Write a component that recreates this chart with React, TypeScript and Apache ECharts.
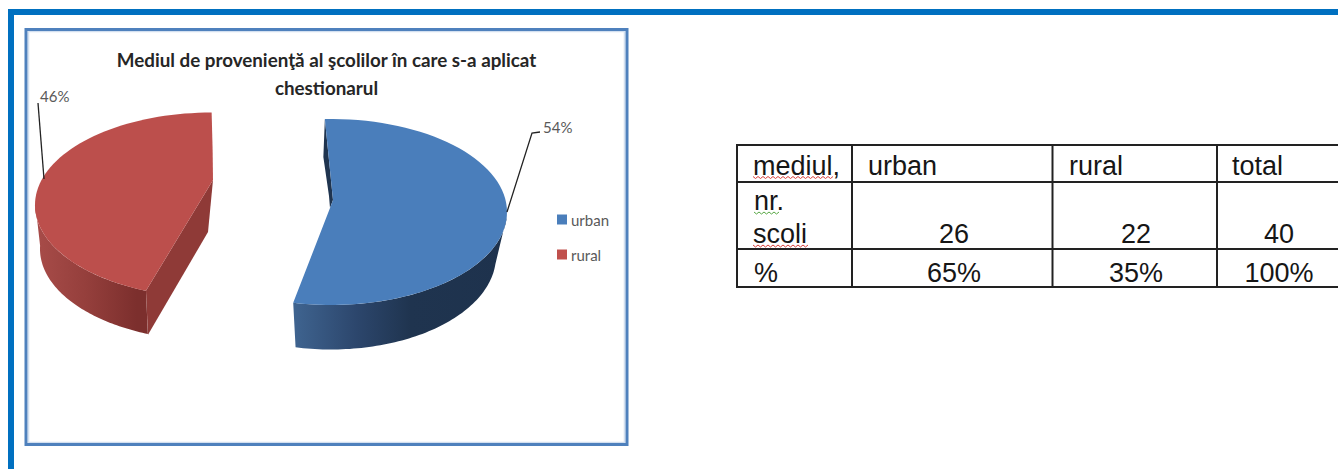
import React, { useEffect, useRef } from "react";
import * as echarts from "echarts";

const titleLines = ["Mediul de provenienţă al şcolilor în care s-a aplicat", "chestionarul"];
const sliceNames = ["urban", "rural"];
const sliceValues = [54, 46];
const tableHeader = ["mediul,", "urban", "rural", "total"];
const tableCounts = ["26", "22", "40"];
const tablePercents = ["65%", "35%", "100%"];

const W = 1338;
const H = 469;
const rad = (d: number) => (d * Math.PI) / 180;

type Geo = {
  face: string; wallStops: [number, string][]; cutWall: string;
  cx: number; cy: number; a: number; ry: number;
  bcx: number; bcy: number; ba: number; bry: number;
  start: number; sweepScale: number; apex: number[];
  wallFrom: number; wallTo: number; bottomFrom: number; bottomTo: number;
  leader: number[][]; label: number[];
};

const geoUrban: Geo = {
  face: "#4a7ebb",
  wallStops: [[0, "#3f6490"], [0.3, "#2c466c"], [0.55, "#1f344f"], [1, "#1e324d"]],
  cutWall: "#1f344f",
  cx: 331, cy: 212, a: 176, ry: 93,
  bcx: 331, bcy: 256, ba: 165, bry: 93.5,
  start: -2, sweepScale: 1, apex: [330, 208],
  wallFrom: 93, wallTo: 192.4, bottomFrom: 95, bottomTo: 192.4,
  leader: [[507, 212], [532, 133], [540, 132]],
  label: [543, 127],
};
const geoRural: Geo = {
  face: "#bc4f4c",
  wallStops: [[0, "#a84c49"], [0.45, "#953f3c"], [0.9, "#7c2f2d"], [1, "#7c2f2d"]],
  cutWall: "#8f3a37",
  cx: 212, cy: 205, a: 177, ry: 92.5,
  bcx: 212, bcy: 249, ba: 172, bry: 91.6,
  start: 201.9, sweepScale: 0.954, apex: [213, 180],
  wallFrom: 201.9, wallTo: 272, bottomFrom: 201.9, bottomTo: 272,
  leader: [[44, 179], [38, 103]],
  label: [40, 96],
};
const geos = [geoUrban, geoRural];

function arc(cx: number, cy: number, a: number, ry: number, from: number, to: number) {
  const pts: number[][] = [];
  const n = 72;
  for (let i = 0; i <= n; i++) {
    const t = rad(from + ((to - from) * i) / n);
    pts.push([cx + a * Math.sin(t), cy - ry * Math.cos(t)]);
  }
  return pts;
}

function sliceRender(idx: number) {
  return () => {
    const g = geos[idx];
    const value = sliceValues[idx];
    const total = sliceValues.reduce((s, v) => s + v, 0);
    const sweep = (value / total) * 360 * g.sweepScale;
    const end = g.start + sweep;
    const rim = arc(g.cx, g.cy, g.a, g.ry, g.start, end);
    const rimS = rim[0];
    const rimE = rim[rim.length - 1];
    const children: any[] = [];
    const xs = [
      ...arc(g.cx, g.cy, g.a, g.ry, g.wallFrom, g.wallTo),
      ...arc(g.bcx, g.bcy, g.ba, g.bry, g.bottomTo, g.bottomFrom),
    ];
    const wallFill = new echarts.graphic.LinearGradient(0, 0, 1, 0, g.wallStops.map(([offset, color]) => ({ offset, color })));
    children.push({ type: "polygon", shape: { points: xs }, style: { fill: wallFill } });
    if (idx === 0) {
      children.push({
        type: "polygon",
        shape: { points: [rimS, [rimS[0] - 1.5, rimS[1] + 38], [g.apex[0] - 1, g.apex[1] - 12], g.apex, [g.apex[0] + 3, g.apex[1] - 8]] },
        style: { fill: g.cutWall },
      });
      children.push({
        type: "polygon",
        shape: { points: [...rim, g.apex, [g.apex[0] + 3, g.apex[1] - 8]] },
        style: { fill: g.face },
      });
    } else {
      children.push({
        type: "polygon",
        shape: { points: [rimS, [rimS[0] + 2, rimS[1] + 44], [g.apex[0] - 5, g.apex[1] + 52], g.apex] },
        style: { fill: g.cutWall },
      });
      children.push({
        type: "polygon",
        shape: { points: [...rim, [rimE[0] + 1, rimE[1] + 38], g.apex] },
        style: { fill: g.face },
      });
    }
    children.push({
      type: "polyline",
      shape: { points: g.leader },
      style: { stroke: "#222222", lineWidth: 1.3, fill: "none" },
    });
    children.push({
      type: "text",
      x: g.label[0], y: g.label[1],
      style: { text: `${value}%`, fill: "#595959", font: "15px Lato", textAlign: "left", textVerticalAlign: "middle" },
    });
    return { type: "group", children };
  };
}

const colX = [737, 852, 1052.5, 1217];
const rowY = [145, 182, 249, 287];
const tableFont = '27px "Liberation Sans"';
const tableInk = "#161616";
const baselineShift = 23;

function cell(text: string, x: number, y: number, align: string = "left") {
  return { type: "text", x, y: y - baselineShift, silent: true, style: { text, fill: tableInk, font: tableFont, textAlign: align, textVerticalAlign: "top" } };
}
function squiggle(x0: number, x1: number, y: number, color: string) {
  const points: number[][] = [];
  let i = 0;
  for (let x = x0; x <= x1; x += 2.5) points.push([x, y + (i++ % 2 ? 2 : 0)]);
  return { type: "polyline", silent: true, shape: { points }, style: { stroke: color, lineWidth: 1, fill: "none" } };
}
function rule(x1: number, y1: number, x2: number, y2: number) {
  return { type: "line", silent: true, shape: { x1, y1, x2, y2 }, style: { stroke: "#222222", lineWidth: 2 } };
}

function tableGraphics() {
  const els: any[] = [];
  rowY.forEach((y) => els.push(rule(colX[0] - 1, y, W, y)));
  colX.forEach((x) => els.push(rule(x, rowY[0], x, rowY[3])));
  const headerX = [753, 868, 1069, 1232];
  tableHeader.forEach((t, i) => els.push(cell(t, headerX[i], 175)));
  els.push(cell("nr.", 754, 210));
  els.push(cell("scoli", 753, 243));
  els.push(cell("%", 754, 282));
  const centers = [954, 1136, 1279];
  tableCounts.forEach((t, i) => els.push(cell(t, centers[i], 243, "center")));
  tablePercents.forEach((t, i) => els.push(cell(t, centers[i], 282, "center")));
  els.push(squiggle(753, 835, 176.5, "#d9413b"));
  els.push(squiggle(753, 810, 245, "#d9413b"));
  els.push(squiggle(754, 779, 212, "#58a845"));
  return els;
}

export default function App() {
  const ref = useRef<HTMLDivElement>(null);
  useEffect(() => {
    document.body.style.margin = "0";
    const chart = echarts.init(ref.current!, undefined, { renderer: "svg" });
    chart.setOption({
      animation: false,
      backgroundColor: "#ffffff",
      title: {
        text: titleLines.join("\n"),
        left: 326.5, top: 45, padding: 0, textAlign: "center",
        textStyle: { fontFamily: "Lato", fontWeight: "bold", fontSize: 18.8, lineHeight: 28, color: "#262626" },
      },
      legend: {
        orient: "vertical", left: 557, top: 212, padding: 0,
        itemWidth: 10, itemHeight: 10, itemGap: 20, icon: "rect",
        textStyle: { fontFamily: "Lato", fontSize: 15, color: "#595959", padding: [0, 0, 0, -1] },
        data: sliceNames.map((name, i) => ({ name, itemStyle: { color: i === 0 ? "#4a7ebb" : "#c0504d" } })),
      },
      graphic: [
        { type: "rect", silent: true, z: 0, shape: { x: 8, y: 9, width: W - 8, height: 6 }, style: { fill: "#0070c0" } },
        { type: "rect", silent: true, z: 0, shape: { x: 8, y: 9, width: 6, height: H - 9 }, style: { fill: "#0070c0" } },
        { type: "rect", silent: true, z: 0, shape: { x: 28.5, y: 31.5, width: 596, height: 411 }, style: { fill: "none", stroke: "#d3e0f0", lineWidth: 1.5 } },
        { type: "rect", silent: true, z: 0, shape: { x: 26, y: 29.5, width: 601, height: 415 }, style: { fill: "none", stroke: "#4f81bd", lineWidth: 3 } },
        ...tableGraphics(),
      ],
      series: sliceNames.map((name, i) => ({
        type: "custom",
        name,
        coordinateSystem: "none",
        silent: true,
        data: [sliceValues[i]],
        itemStyle: { color: i === 0 ? "#4a7ebb" : "#c0504d" },
        renderItem: sliceRender(i),
      })),
    });
    return () => chart.dispose();
  }, []);
  return <div ref={ref} style={{ position: "fixed", left: 0, top: 0, width: W, height: H }} />;
}
